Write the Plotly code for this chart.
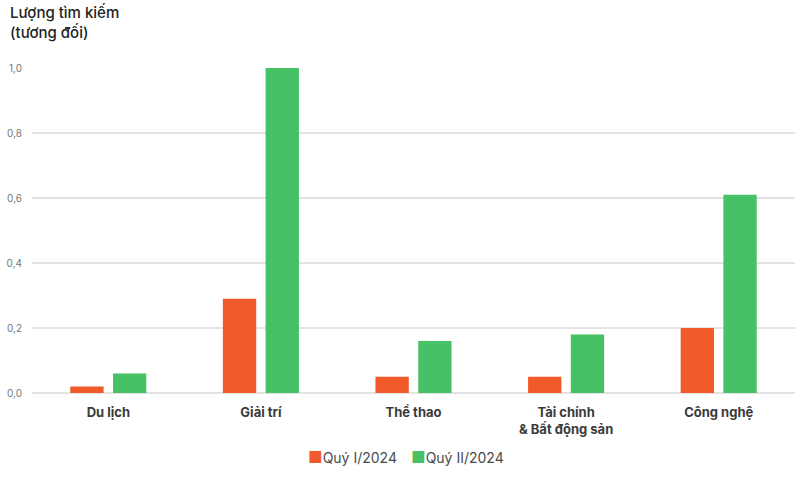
import plotly.graph_objects as go

categories = ["Du lịch", "Giải trí", "Thể thao", "Tài chính<br>& Bất động sản", "Công nghệ"]
q1_values = [0.02, 0.29, 0.05, 0.05, 0.20]
q2_values = [0.06, 1.00, 0.16, 0.18, 0.61]
series_names = ["Quý I/2024", "Quý II/2024"]
series_colors = ["#F15A2B", "#46C165"]
y_ticks = [0.0, 0.2, 0.4, 0.6, 0.8, 1.0]

fig = go.Figure()
fig.add_trace(go.Bar(x=categories, y=q1_values, name=series_names[0],
                     marker=dict(color=series_colors[0], line=dict(width=0))))
fig.add_trace(go.Bar(x=categories, y=q2_values, name=series_names[1],
                     marker=dict(color=series_colors[1], line=dict(width=0))))

# compact legend (square swatch right next to label), drawn as text
legend_x = [0.359, 0.494]
legend_ann = [dict(text=f'<span style="color:{c};font-size:16px">■</span>{n}',
                   xref="paper", yref="paper", x=lx, y=-0.197,
                   xanchor="left", yanchor="middle", showarrow=False,
                   font=dict(size=14, color="#4a4a4a"))
              for n, c, lx in zip(series_names, series_colors, legend_x)]

fig.update_layout(
    width=800, height=478,
    margin=dict(l=32, r=5, t=68, b=85, autoexpand=False),
    paper_bgcolor="white", plot_bgcolor="white",
    separators=",.",
    barmode="group", bargap=0.44, bargroupgap=0.22,
    font=dict(family="Inter, Open Sans, sans-serif", color="#333"),
    showlegend=False,
    xaxis=dict(showgrid=False, showline=False, ticks="", automargin=False,
               ticklabelstandoff=10,
               tickfont=dict(size=13, color="#3a3a3a", family="Inter, sans-serif", weight="bold")),
    yaxis=dict(range=[0, 1.0], tickvals=y_ticks, tickformat=".1f", automargin=False,
               showgrid=True, gridcolor="#e3e3e3", gridwidth=1.5,
               zeroline=True, zerolinecolor="#e3e3e3", zerolinewidth=1.5,
               showline=False, ticks="", ticklabelstandoff=9,
               tickfont=dict(size=10, color="#777")),
    annotations=[dict(text="Lượng tìm kiếm<br>(tương đối)", xref="paper", yref="paper",
                      x=-0.031, y=1.205, xanchor="left", yanchor="top", align="left",
                      showarrow=False, font=dict(size=15, color="#222", weight=500))]
                + legend_ann,
)

# remove the default 8px page margin so the figure fills the window exactly
fig.write_html("out.html", config={"displayModeBar": False},
               post_script="document.body.style.margin='0';")
